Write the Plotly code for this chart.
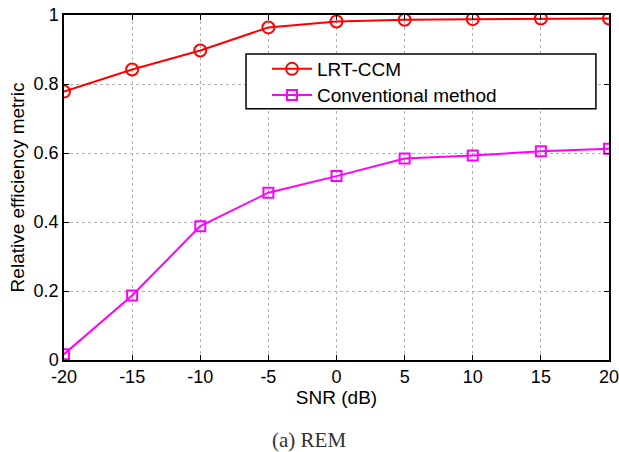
import plotly.graph_objects as go

snr = [-20, -15, -10, -5, 0, 5, 10, 15, 20]
lrt_ccm = [0.778, 0.842, 0.897, 0.964, 0.981, 0.986, 0.988, 0.990, 0.990]
conventional = [0.017, 0.187, 0.388, 0.485, 0.533, 0.584, 0.593, 0.605, 0.612]
x_ticks = [-20, -15, -10, -5, 0, 5, 10, 15, 20]
y_ticks = [0, 0.2, 0.4, 0.6, 0.8, 1]
y_tick_text = ["0", "0.2", "0.4", "0.6", "0.8", "1"]

font_main = "Arial, Liberation Sans, sans-serif"

fig = go.Figure()
fig.add_trace(go.Scatter(
    x=snr, y=lrt_ccm, name="LRT-CCM", mode="lines+markers",
    line=dict(color="#ff0000", width=2),
    marker=dict(symbol="circle-open", size=12, color="#ff0000", line=dict(width=2)),
    legend="legend",
))
fig.add_trace(go.Scatter(
    x=snr, y=conventional, name="Conventional method", mode="lines+markers",
    line=dict(color="#ff00ff", width=2),
    marker=dict(symbol="square-open", size=10, color="#ff00ff", line=dict(width=2)),
    legend="legend2",
))

axis_common = dict(
    showline=True, linecolor="black", linewidth=1.5, mirror="ticks",
    ticks="inside", ticklen=5, tickcolor="black", tickwidth=1,
    showgrid=True, gridcolor="#b0b0b0", griddash="dot", gridwidth=1,
    zeroline=False, automargin=False, ticklabeloverflow="allow",
    tickfont=dict(family=font_main, size=18, color="black"),
)

fig.update_xaxes(range=[-20, 20], tickvals=x_ticks, ticktext=[str(v) for v in x_ticks],
                 title=dict(text="SNR (dB)", font=dict(family=font_main, size=19, color="black"), standoff=2),
                 **axis_common)
fig.update_yaxes(range=[0, 1], tickvals=y_ticks, ticktext=y_tick_text,
                 title=dict(text="Relative efficiency metric", font=dict(family=font_main, size=19, color="black"), standoff=4),
                 **axis_common)

leg_common = dict(xanchor="left", yanchor="middle", bgcolor="rgba(0,0,0,0)",
                  borderwidth=0, font=dict(family=font_main, size=19, color="black"),
                  itemwidth=40)

fig.update_layout(
    width=619, height=452,
    margin=dict(l=64, r=10, t=15, b=92),
    plot_bgcolor="white", paper_bgcolor="white",
    showlegend=True,
    legend=dict(x=0.3725, y=0.8435, **leg_common),
    legend2=dict(x=0.3725, y=0.768, **leg_common),
    shapes=[dict(type="rect", xref="paper", yref="paper",
                 x0=0.334, x1=0.976, y0=0.728, y1=0.887,
                 line=dict(color="black", width=1.5), fillcolor="white", layer="above")],
    annotations=[dict(text="(a) REM", xref="paper", yref="paper", x=0.4495, y=-0.232,
                      xanchor="center", yanchor="middle", showarrow=False,
                      font=dict(family="Times New Roman, Liberation Serif, serif", size=21, color="#333333"))],
)

fig.write_html("out.html")
